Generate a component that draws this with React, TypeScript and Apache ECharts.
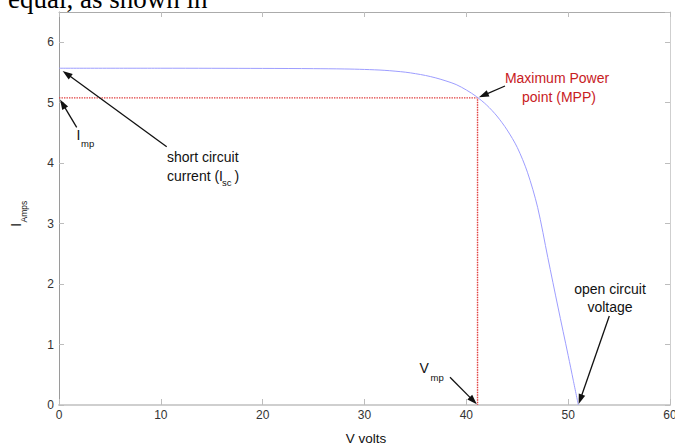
import React, { useEffect, useRef } from "react";
import * as echarts from "echarts";

// I-V curve
const voltage = [0, 10, 20, 25, 28, 30, 32, 34, 35, 36, 37, 38, 39, 40, 41, 42, 43, 44, 45, 46, 47, 48, 49, 50, 50.5, 51];
const current = [5.57, 5.57, 5.567, 5.563, 5.558, 5.55, 5.535, 5.505, 5.48, 5.45, 5.41, 5.36, 5.3, 5.21, 5.1, 4.96, 4.78, 4.55, 4.26, 3.85, 3.27, 2.44, 1.62, 0.82, 0.41, 0];

// maximum power point, short-circuit and open-circuit points
const mppPoint = [41.1, 5.08];
const iscPoint = [0, 5.57];
const vocPoint = [51, 0];

const xRange = [0, 60];
const yRange = [0, 6.5];

const FONT = "Liberation Sans, Arial, sans-serif";

export default function App() {
  const ref = useRef<HTMLDivElement>(null);
  useEffect(() => {
    if (!ref.current) return;
    const chart = echarts.init(ref.current, null, { renderer: "svg" });
    const curve = voltage.map((v, i) => [v, current[i]]);
    const mppGuide = [
      [0, mppPoint[1]],
      [mppPoint[0], mppPoint[1]],
      [mppPoint[0], 0],
    ];
    const tickLabel = { color: "#333", fontSize: 12, fontFamily: FONT };
    chart.setOption({
      animation: false,
      backgroundColor: "#ffffff",
      grid: { left: 59, right: 5, top: 12, bottom: 40, containLabel: false, outerBoundsMode: "none" },
      xAxis: [
        {
          type: "value", min: xRange[0], max: xRange[1], interval: 10, position: "bottom",
          axisLine: { onZero: false, lineStyle: { color: "#cfcfcf", width: 2 } },
          axisTick: { inside: true, length: 6, lineStyle: { color: "#bdbdbd" } },
          axisLabel: { ...tickLabel, margin: 4 },
          splitLine: { show: false },
        },
        {
          type: "value", min: xRange[0], max: xRange[1], interval: 10, position: "top",
          axisLine: { onZero: false, lineStyle: { color: "#ababab", width: 1 } },
          axisTick: { inside: true, length: 5, lineStyle: { color: "#bdbdbd" } },
          axisLabel: { show: false },
          splitLine: { show: false },
        },
      ],
      yAxis: [
        {
          type: "value", min: yRange[0], max: yRange[1], interval: 1, position: "left",
          axisLine: { onZero: false, lineStyle: { color: "#9a9a9a", width: 1 } },
          axisTick: { inside: true, length: 5, lineStyle: { color: "#bdbdbd" } },
          axisLabel: { ...tickLabel, margin: 5, showMaxLabel: false },
          splitLine: { show: false },
        },
        {
          type: "value", min: yRange[0], max: yRange[1], interval: 1, position: "right",
          axisLine: { onZero: false, lineStyle: { color: "#cfcfcf", width: 1 } },
          axisTick: { inside: true, length: 5, lineStyle: { color: "#bdbdbd" } },
          axisLabel: { show: false },
          splitLine: { show: false },
        },
      ],
      series: [
        {
          type: "line", data: curve, smooth: 0.3, showSymbol: false,
          lineStyle: { color: "#9d9dff", width: 1 }, z: 3,
        },
        {
          type: "line", data: mppGuide, showSymbol: false,
          lineStyle: { color: "#e03c3c", width: 1.4, type: [1.4, 1.1] }, z: 2,
        },
      ],
    });

    const toPx = (p: number[]) => chart.convertToPixel({ gridIndex: 0 }, p) as number[];

    const arrows = [
      { target: iscPoint, tail: [166.7, 146.7], gap: 4.5 },
      { target: [0, mppPoint[1]], tail: [76.7, 127.3], gap: 2 },
      { target: mppPoint, tail: [505, 86], gap: 1.5 },
      { target: [mppPoint[0], 0], tail: [450, 377.3], gap: 1 },
      { target: vocPoint, tail: [609.3, 316], gap: 1 },
    ];
    const arrowEls: any[] = [];
    arrows.forEach((a) => {
      const t = toPx(a.target);
      const dx = a.tail[0] - t[0];
      const dy = a.tail[1] - t[1];
      const len = Math.hypot(dx, dy);
      const ux = dx / len, uy = dy / len;
      const tip = [t[0] + ux * a.gap, t[1] + uy * a.gap];
      const headLen = 10, halfW = 3.4;
      const base = [tip[0] + ux * headLen, tip[1] + uy * headLen];
      const px = -uy, py = ux;
      arrowEls.push({
        type: "line", z: 10,
        shape: { x1: a.tail[0], y1: a.tail[1], x2: base[0] - ux * 2, y2: base[1] - uy * 2 },
        style: { stroke: "#111", lineWidth: 1.3 },
      });
      arrowEls.push({
        type: "polygon", z: 10,
        shape: { points: [tip, [base[0] + px * halfW, base[1] + py * halfW], [base[0] - px * halfW, base[1] - py * halfW]] },
        style: { fill: "#111" },
      });
    });

    const txt = (text: string, x: number, y: number, size: number, opts: any = {}) => ({
      type: "text", x, y, z: 11,
      style: {
        text, fontSize: size, fontFamily: opts.family || FONT, fill: opts.fill || "#111",
        align: opts.align || "left", verticalAlign: "middle",
      },
    });

    const red = "#c8201e";
    const texts = [
      txt("equal, as shown in", 8, -1.5, 27, { family: "Liberation Serif, Times New Roman, serif", fill: "#000" }),
      txt("short circuit", 167, 157, 14),
      txt("current (I", 167, 176, 14),
      txt("sc", 222, 182, 9.5),
      txt(")", 234.5, 176, 14),
      txt("I", 76.5, 135, 14),
      txt("mp", 81, 143, 9.5),
      txt("V", 419.5, 368, 14),
      txt("mp", 430.5, 377, 9.5),
      txt("Maximum Power", 557, 77.5, 14, { align: "center", fill: red }),
      txt("point (MPP)", 559, 96.7, 14, { align: "center", fill: red }),
      txt("open circuit", 610, 289, 14, { align: "center" }),
      txt("voltage", 610, 306.7, 14, { align: "center" }),
      txt("V volts", 366, 438, 13.5, { align: "center" }),
      {
        type: "group", x: 15, y: 227, rotation: Math.PI / 2, z: 11,
        children: [
          { type: "text", x: 0, y: 0, style: { text: "I", fontSize: 15, fontFamily: FONT, fill: "#111", align: "left", verticalAlign: "middle" } },
          { type: "text", x: 4.5, y: 8.5, style: { text: "Amps", fontSize: 8.5, fontFamily: FONT, fill: "#111", align: "left", verticalAlign: "middle" } },
        ],
      },
    ];

    chart.setOption({ graphic: [...arrowEls, ...texts] });
    return () => chart.dispose();
  }, []);

  return (
    <div
      ref={ref}
      style={{ position: "fixed", left: 0, top: 0, width: 675, height: 445, background: "#fff" }}
    />
  );
}
